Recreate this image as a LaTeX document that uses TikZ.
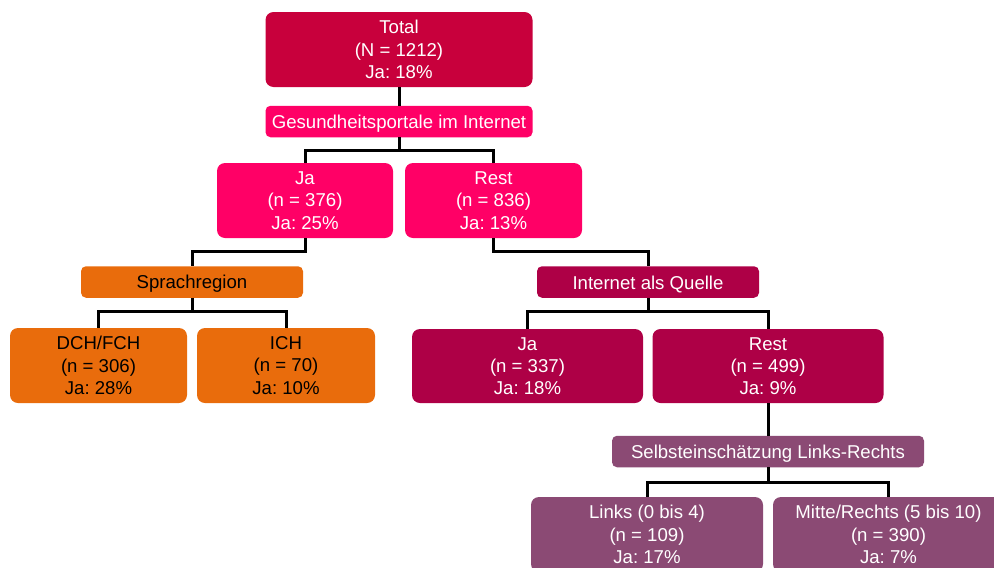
\documentclass[tikz,border=0pt]{standalone}
\usepackage{fontspec}
\setmainfont{Liberation Sans}
\definecolor{cTotal}{HTML}{C8003C}
\definecolor{cPink}{HTML}{FF0066}
\definecolor{cOrange}{HTML}{E96C0C}
\definecolor{cWine}{HTML}{AE0046}
\definecolor{cPurple}{HTML}{8B4A74}
\tikzset{
  box/.style={rounded corners=8pt, align=center, inner sep=0pt, text=white,
    font=\fontsize{18.6}{22.3}\selectfont\frenchspacing,
    execute at begin node={\rule{0pt}{17.6pt}}},
  big/.style={box, minimum height=75pt},
  split/.style={box, minimum height=31.5pt, rounded corners=5pt},
  conn/.style={draw=black, line width=3pt}
}
\begin{document}
\begin{tikzpicture}[x=1pt,y=-1pt]
\useasboundingbox (0,0) rectangle (994,568);
\clip (0,0) rectangle (994,568);
% nodes
\node[big, fill=cTotal, minimum width=267pt] (total) at (399,49.5) {Total\\(N = 1212)\\Ja: 18\%};
\node[split, fill=cPink, minimum width=267pt] (gesund) at (399,121.5) {Gesundheitsportale im Internet};
\node[big, fill=cPink, minimum width=176pt] (ja1) at (305,200.5) {Ja\\(n = 376)\\Ja: 25\%};
\node[big, fill=cPink, minimum width=177pt] (rest1) at (493.5,200.5) {Rest\\(n = 836)\\Ja: 13\%};
\node[split, fill=cOrange, text=black, minimum width=222pt] (sprach) at (192,282) {Sprachregion};
\node[big, fill=cOrange, text=black, minimum width=177pt] (dch) at (98.5,365.5) {DCH/FCH\\(n = 306)\\Ja: 28\%};
\node[big, fill=cOrange, text=black, minimum width=178pt] (ich) at (286,365.5) {ICH\\(n = 70)\\Ja: 10\%};
\node[split, fill=cWine, minimum width=222pt] (internet) at (648,282) {Internet als Quelle};
\node[big, fill=cWine, minimum width=231pt, minimum height=74pt] (ja2) at (527.5,366) {Ja\\(n = 337)\\Ja: 18\%};
\node[big, fill=cWine, minimum width=231pt, minimum height=74pt] (rest2) at (768,366) {Rest\\(n = 499)\\Ja: 9\%};
\node[split, fill=cPurple, minimum width=312pt] (selbst) at (768,451.5) {Selbsteinschätzung Links-Rechts};
\node[big, fill=cPurple, minimum width=232pt] (links) at (647,534.5) {Links (0 bis 4)\\(n = 109)\\Ja: 17\%};
\node[big, fill=cPurple, minimum width=231pt] (mitte) at (888.5,534.5) {Mitte/Rechts (5 bis 10)\\(n = 390)\\Ja: 7\%};
% connectors
\draw[conn] (total.south) -- (gesund.north);
\draw[conn] (gesund.south) -- ++(0,13) -| (ja1.north);
\draw[conn] (gesund.south) -- ++(0,13) -| (rest1.north);
\draw[conn] (ja1.south) -- ++(0,13) -| (sprach.north);
\draw[conn] (sprach.south) -- ++(0,14) -| (dch.north);
\draw[conn] (sprach.south) -- ++(0,14) -| (ich.north);
\draw[conn] (rest1.south) -- ++(0,13) -| (internet.north);
\draw[conn] (internet.south) -- ++(0,14) -| (ja2.north);
\draw[conn] (internet.south) -- ++(0,14) -| (rest2.north);
\draw[conn] (rest2.south) -- (selbst.north);
\draw[conn] (selbst.south) -- ++(0,15) -| (links.north);
\draw[conn] (selbst.south) -- ++(0,15) -| (mitte.north);
\end{tikzpicture}
\end{document}
